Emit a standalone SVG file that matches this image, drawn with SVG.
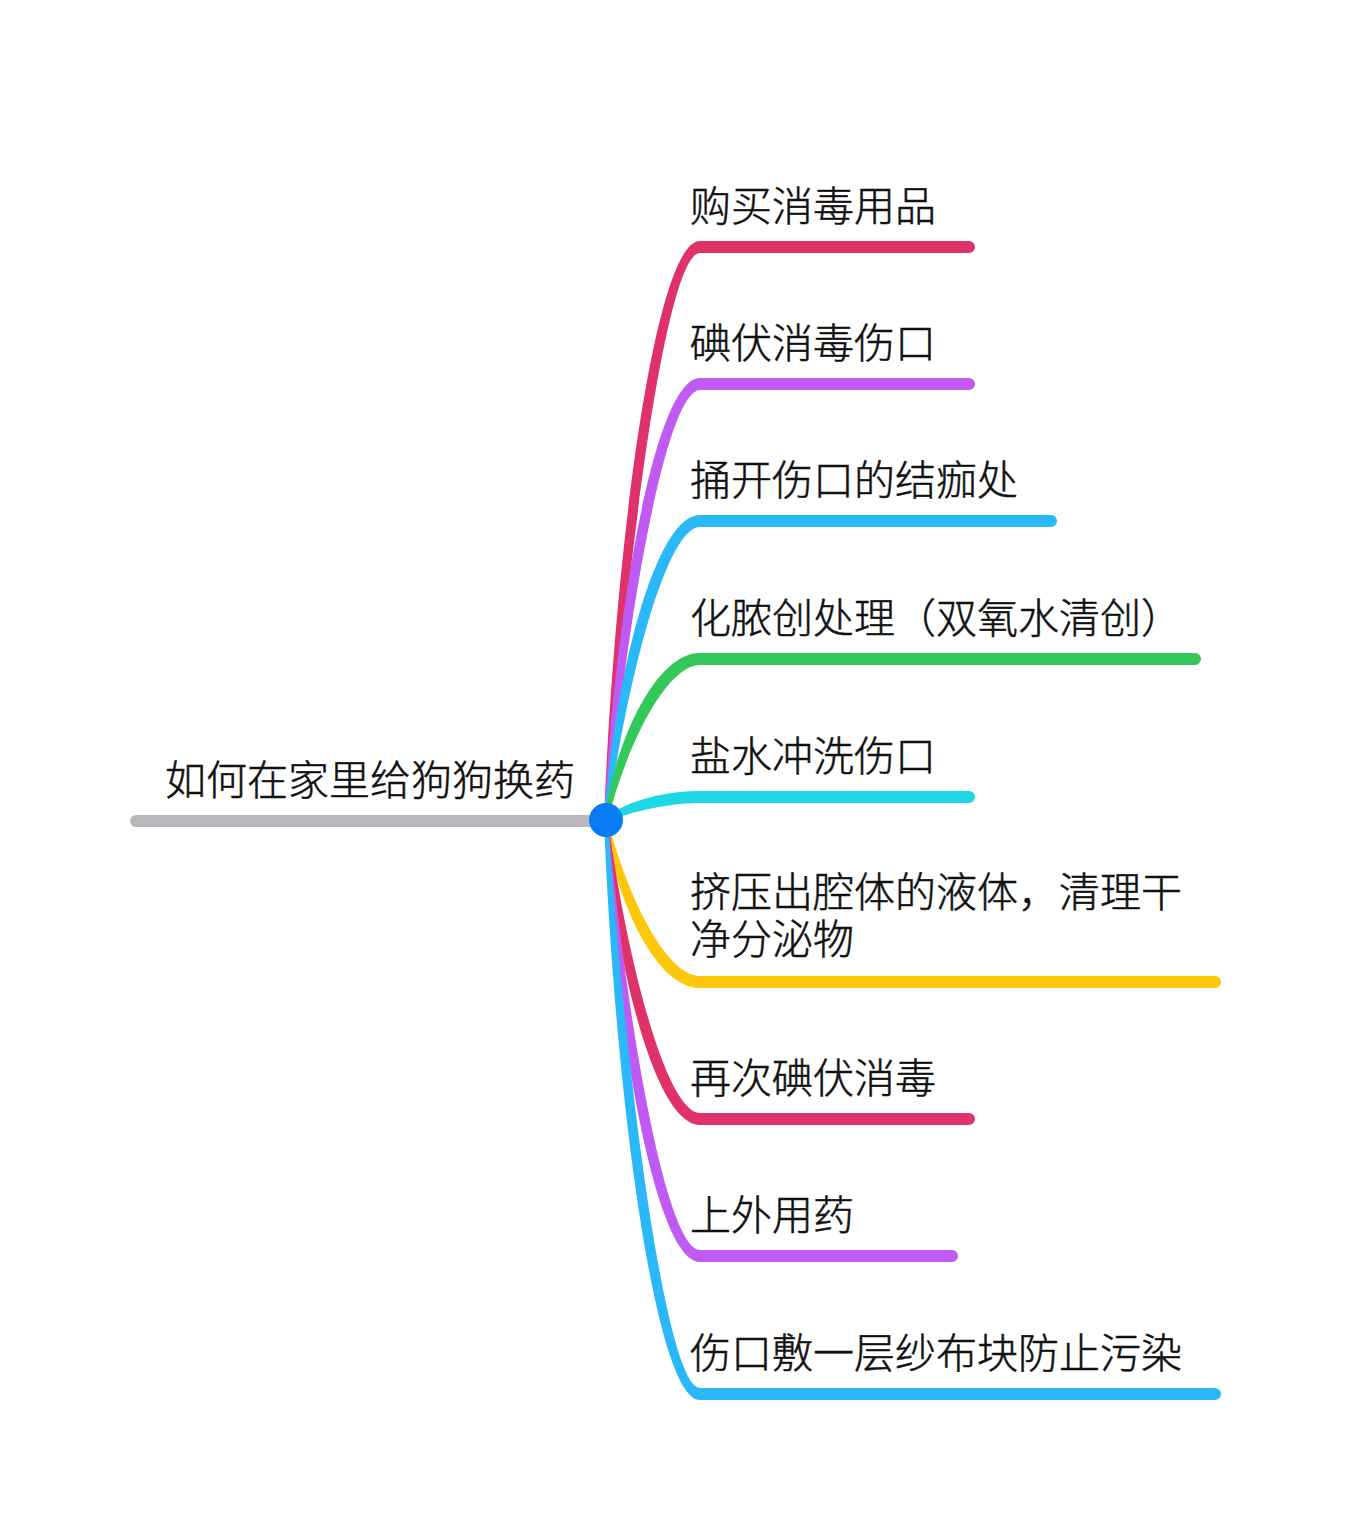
<svg xmlns="http://www.w3.org/2000/svg" width="1352" height="1532" viewBox="0 0 1352 1532">
<style>
text{font-family:"Noto Sans CJK SC","Noto Sans",sans-serif;font-size:41px;font-weight:300;fill:#111;stroke:#111;stroke-width:0.5}
.red{fill:#df3268}.pur{fill:#bf5af2}.blu{fill:#2bb8f8}.grn{fill:#34c759}.cya{fill:#1dd6e6}.yel{fill:#ffc70a}
</style>
<rect width="1352" height="1532" fill="#ffffff"/>
<g id="connectors">
<line x1="136" y1="821" x2="606" y2="821" stroke="#b9b8bd" stroke-width="12" stroke-linecap="round"/>
<path class="red" d="M604,820 C614,559 654,241 700,241 L969,241 A6,6 0 0 1 969,253 L700,253 C666,253 626,559 608,820 Z"/>
<path class="pur" d="M604,820 C614,622 654,378 700,378 L969,378 A6,6 0 0 1 969,390 L700,390 C666,390 626,622 608,820 Z"/>
<path class="blu" d="M604,820 C614,684 654,515 700,515 L1051,515 A6,6 0 0 1 1051,527 L700,527 C666,527 626,684 608,820 Z"/>
<path class="grn" d="M604,820 C614,747 654,653 700,653 L1195,653 A6,6 0 0 1 1195,665 L700,665 C666,665 626,747 608,820 Z"/>
<path class="cya" d="M606,818 C620,804 660,791 700,791 L969,791 A6,6 0 0 1 969,803 L700,803 C660,803 620,816 606,822 Z"/>
<path class="yel" d="M604,820 C614,894 654,988 700,988 L1215,988 A6,6 0 0 0 1215,976 L700,976 C666,976 626,894 608,820 Z"/>
<path class="red" d="M604,820 C614,956 654,1125 700,1125 L969,1125 A6,6 0 0 0 969,1113 L700,1113 C666,1113 626,956 608,820 Z"/>
<path class="pur" d="M604,820 C614,1018 654,1262 700,1262 L952,1262 A6,6 0 0 0 952,1250 L700,1250 C666,1250 626,1018 608,820 Z"/>
<path class="blu" d="M604,820 C614,1081 654,1400 700,1400 L1215,1400 A6,6 0 0 0 1215,1388 L700,1388 C666,1388 626,1081 608,820 Z"/>
</g>
<g id="root"><text x="165" y="795">如何在家里给狗狗换药</text></g>
<g id="hub"><circle cx="606" cy="820" r="17" fill="#0a7cf3"/></g>
<g id="n1"><text x="690" y="221">购买消毒用品</text></g>
<g id="n2"><text x="690" y="358">碘伏消毒伤口</text></g>
<g id="n3"><text x="690" y="495">捅开伤口的结痂处</text></g>
<g id="n4"><text x="690" y="633">化脓创处理（双氧水清创）</text></g>
<g id="n5"><text x="690" y="771">盐水冲洗伤口</text></g>
<g id="n6"><text x="690" y="907">挤压出腔体的液体，清理干<tspan x="690" y="954">净分泌物</tspan></text></g>
<g id="n7"><text x="690" y="1093">再次碘伏消毒</text></g>
<g id="n8"><text x="690" y="1230">上外用药</text></g>
<g id="n9"><text x="690" y="1368">伤口敷一层纱布块防止污染</text></g>
</svg>
